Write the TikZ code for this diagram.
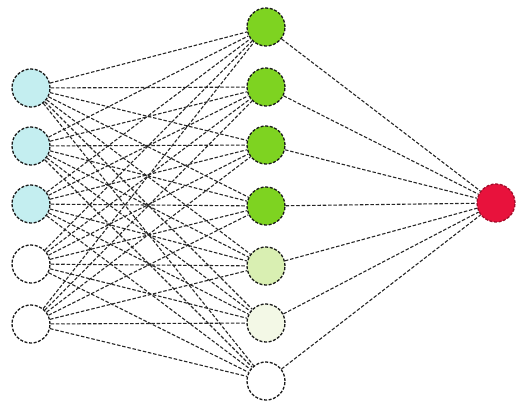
\documentclass[tikz,border=0pt]{standalone}
\begin{document}
\begin{tikzpicture}[x=1pt,y=-1pt,
  neuron/.style={circle,minimum size=38pt,inner sep=0pt,draw=black!90,line width=1.3pt,dash pattern=on 3pt off 1.6pt},
  link/.style={draw=black!85,line width=1.1pt,dash pattern=on 3.5pt off 1.8pt}]
\useasboundingbox (0,0) rectangle (517,416);
\definecolor{inblue}{HTML}{C4EEF0}
\definecolor{hidgreen}{HTML}{7ED321}
\definecolor{hidpale}{HTML}{D9EFB2}
\definecolor{hidfaint}{HTML}{F3F8E6}
\definecolor{outred}{HTML}{E8123C}
% input layer
\foreach \i/\y/\c in {1/88/inblue,2/146/inblue,3/204/inblue,4/264/white,5/324/white}
  \node[neuron,fill=\c] (in\i) at (31,\y) {};
% hidden layer
\foreach \j/\y/\c in {1/27/hidgreen,2/87/hidgreen,3/145/hidgreen,4/206/hidgreen,5/266/hidpale,6/323/hidfaint,7/381/white}
  \node[neuron,fill=\c] (hd\j) at (266,\y) {};
% output neuron
\node[neuron,fill=outred,draw=outred!70!black] (out) at (496,203) {};
% connections: input to hidden, hidden to output
\foreach \i in {1,...,5}
  \foreach \j in {1,...,7}
    \draw[link] (in\i) -- (hd\j);
\foreach \j in {1,...,7}
  \draw[link] (hd\j) -- (out);
\end{tikzpicture}
\end{document}
